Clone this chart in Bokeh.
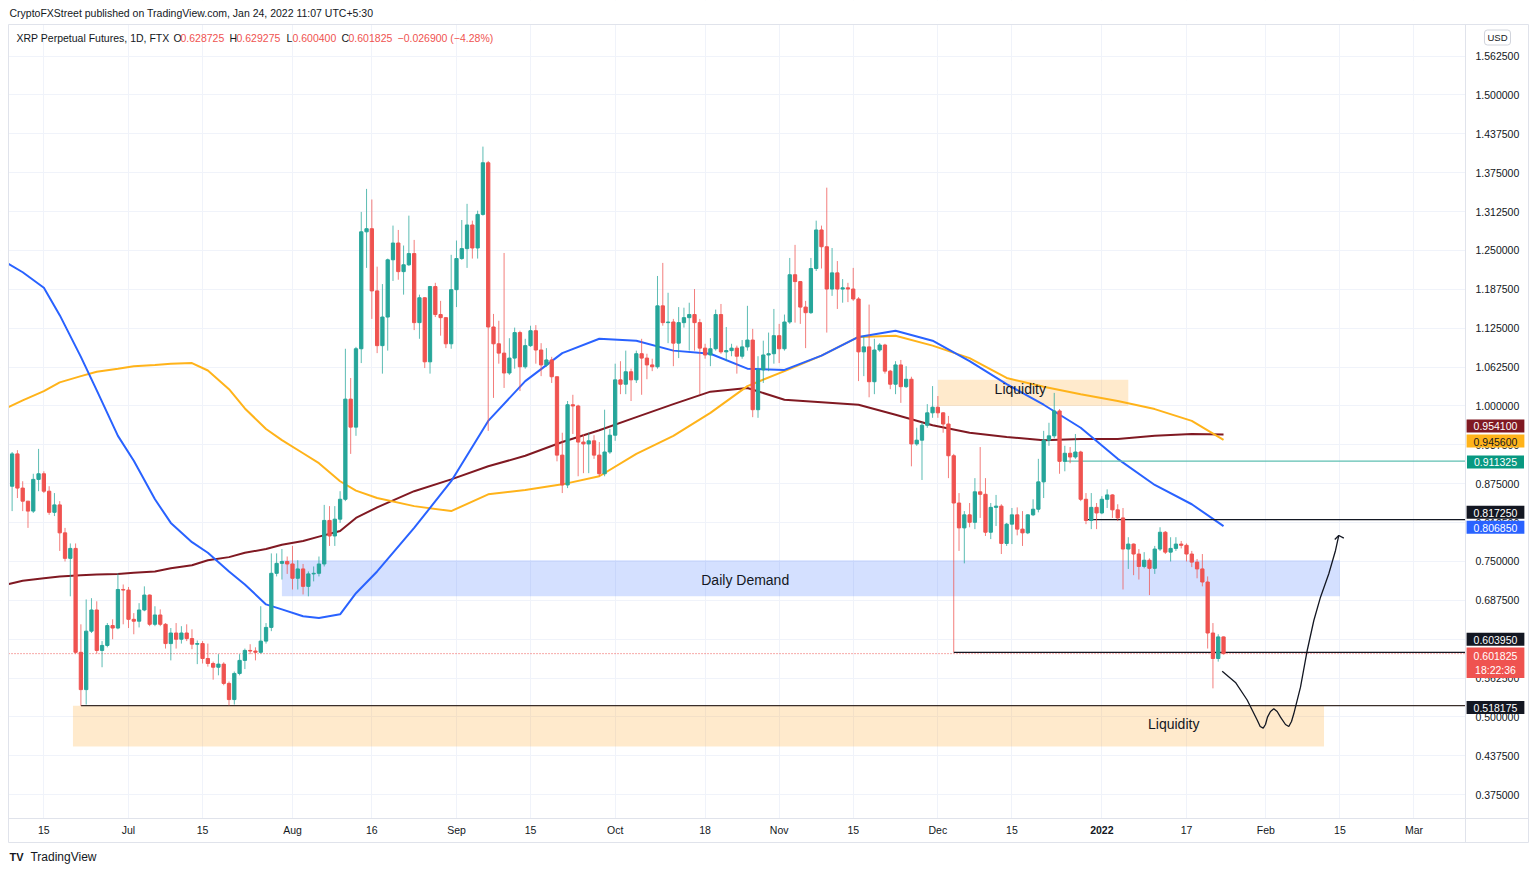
import numpy as np
import pandas as pd
from bokeh.plotting import figure
from bokeh.models import Range1d, FixedTicker, NumeralTickFormatter, Label
from bokeh.embed import file_html
from bokeh.resources import INLINE

FONT = "Liberation Sans"
BASE = pd.Timestamp("2021-07-01")


def day(s):
    return (pd.Timestamp(s) - BASE) / pd.Timedelta(days=1)


# ---------------- daily candles, XRP perpetual (FTX) ----------------
first_open = 0.860
close_jun = [0.871, 0.923, 0.868, 0.847, 0.831, 0.882, 0.891, 0.863, 0.829, 0.841, 0.796, 0.755,
             0.771, 0.604, 0.544, 0.638, 0.672, 0.607, 0.615, 0.647, 0.643, 0.705, 0.704]
high_jun = [0.876, 0.926, 0.929, 0.879, 0.847, 0.891, 0.931, 0.895, 0.871, 0.860, 0.847, 0.804,
            0.779, 0.779, 0.649, 0.689, 0.691, 0.686, 0.622, 0.651, 0.657, 0.731, 0.713]
low_jun = [0.855, 0.831, 0.852, 0.831, 0.804, 0.828, 0.863, 0.860, 0.825, 0.823, 0.767, 0.750,
           0.694, 0.601, 0.518175, 0.520, 0.635, 0.602, 0.580, 0.612, 0.625, 0.641, 0.649]

close_jul = [0.657, 0.654, 0.672, 0.696, 0.649, 0.664, 0.649, 0.618, 0.635, 0.625, 0.635, 0.626,
             0.617, 0.618, 0.594, 0.586, 0.580, 0.585, 0.554, 0.528, 0.570, 0.591, 0.607, 0.606,
             0.604, 0.622, 0.644, 0.731, 0.747, 0.750, 0.746]
high_jul = [0.709, 0.667, 0.683, 0.710, 0.697, 0.678, 0.673, 0.651, 0.643, 0.651, 0.646, 0.649,
            0.641, 0.623, 0.622, 0.618, 0.589, 0.601, 0.588, 0.557, 0.573, 0.601, 0.610, 0.617,
            0.612, 0.678, 0.651, 0.763, 0.763, 0.770, 0.758]
low_jul = [0.643, 0.633, 0.644, 0.670, 0.646, 0.646, 0.646, 0.610, 0.591, 0.610, 0.618, 0.622,
           0.609, 0.585, 0.586, 0.581, 0.560, 0.567, 0.551, 0.5185, 0.520, 0.567, 0.577, 0.601,
           0.591, 0.602, 0.618, 0.638, 0.726, 0.721, 0.730]

close_aug = [0.723, 0.738, 0.710, 0.730, 0.731, 0.746, 0.816, 0.791, 0.818, 0.850, 1.011, 0.966,
             1.092, 1.280, 1.285, 1.185, 1.097, 1.143, 1.235, 1.262, 1.216, 1.227, 1.245, 1.134,
             1.174, 1.071, 1.192, 1.147, 1.142, 1.100, 1.187]
high_aug = [0.775, 0.752, 0.746, 0.734, 0.742, 0.758, 0.841, 0.839, 0.839, 0.863, 1.092, 1.045,
            1.095, 1.312, 1.349, 1.332, 1.224, 1.196, 1.237, 1.290, 1.283, 1.258, 1.306, 1.267,
            1.179, 1.175, 1.193, 1.198, 1.169, 1.143, 1.243]
low_aug = [0.705, 0.705, 0.697, 0.694, 0.718, 0.726, 0.742, 0.775, 0.775, 0.812, 0.847, 0.923,
           0.952, 1.069, 1.222, 1.140, 1.085, 1.052, 1.089, 1.201, 1.203, 1.179, 1.225, 1.122,
           1.108, 1.061, 1.052, 1.143, 1.113, 1.093, 1.092]

close_sep = [1.237, 1.253, 1.291, 1.254, 1.308, 1.391, 1.127, 1.100, 1.085, 1.053, 1.077, 1.118,
             1.063, 1.097, 1.121, 1.090, 1.066, 1.074, 1.047, 0.921, 0.873, 1.002, 1.000, 0.942,
             0.939, 0.944, 0.921, 0.891, 0.926, 0.953]
high_sep = [1.266, 1.299, 1.325, 1.298, 1.314, 1.417, 1.394, 1.148, 1.137, 1.246, 1.109, 1.126,
            1.121, 1.108, 1.129, 1.130, 1.101, 1.093, 1.079, 1.047, 0.957, 1.008, 1.018, 1.002,
            0.955, 0.957, 0.953, 0.942, 0.994, 0.963]
low_sep = [1.159, 1.235, 1.222, 1.237, 1.237, 1.306, 0.960, 1.013, 1.068, 1.029, 1.050, 1.060,
           1.024, 1.060, 1.095, 1.068, 1.048, 1.063, 1.037, 0.911, 0.860, 0.868, 0.955, 0.887,
           0.892, 0.892, 0.915, 0.887, 0.887, 0.923]

close_oct = [1.042, 1.035, 1.055, 1.042, 1.084, 1.077, 1.066, 1.063, 1.161, 1.134, 1.135, 1.101,
             1.134, 1.142, 1.147, 1.134, 1.093, 1.082, 1.092, 1.147, 1.087, 1.089, 1.093, 1.080,
             1.095, 1.106, 0.994, 1.058, 1.082, 1.084, 1.113]
high_oct = [1.068, 1.072, 1.089, 1.060, 1.089, 1.108, 1.084, 1.076, 1.209, 1.230, 1.182, 1.140,
            1.159, 1.158, 1.166, 1.188, 1.140, 1.100, 1.109, 1.155, 1.164, 1.127, 1.100, 1.097,
            1.106, 1.161, 1.124, 1.080, 1.105, 1.118, 1.156]
low_oct = [0.944, 1.019, 1.019, 1.008, 1.037, 1.018, 1.043, 1.056, 1.060, 1.129, 1.101, 1.064,
           1.077, 1.126, 1.089, 1.089, 1.019, 1.076, 1.064, 1.089, 1.084, 1.072, 1.080, 1.052,
           1.076, 1.089, 0.982, 0.981, 1.037, 1.056, 1.068]

close_nov = [1.092, 1.135, 1.211, 1.200, 1.159, 1.150, 1.221, 1.283, 1.256, 1.188, 1.214, 1.188,
             1.190, 1.188, 1.172, 1.087, 1.095, 1.039, 1.090, 1.098, 1.056, 1.035, 1.066, 1.031,
             1.043, 0.939, 0.945, 0.969, 0.989, 0.998]
high_nov = [1.132, 1.147, 1.238, 1.259, 1.201, 1.169, 1.238, 1.298, 1.290, 1.351, 1.254, 1.233,
            1.204, 1.198, 1.222, 1.175, 1.113, 1.163, 1.108, 1.101, 1.100, 1.058, 1.072, 1.074,
            1.064, 1.047, 0.965, 0.974, 1.003, 1.032]
low_nov = [1.069, 1.089, 1.132, 1.134, 1.132, 1.093, 1.148, 1.217, 1.221, 1.118, 1.177, 1.156,
           1.166, 1.167, 1.169, 1.040, 1.048, 1.014, 1.019, 1.087, 1.052, 1.027, 1.019, 1.005,
           1.029, 0.903, 0.936, 0.881, 0.965, 0.981]

close_dec = [0.989, 0.971, 0.920, 0.844, 0.804, 0.825, 0.813, 0.862, 0.858, 0.797, 0.837, 0.839,
             0.779, 0.810, 0.825, 0.802, 0.796, 0.825, 0.834, 0.878, 0.945, 0.952, 0.992, 0.911,
             0.924, 0.918, 0.926, 0.850, 0.816, 0.837, 0.828]
high_dec = [1.016, 0.990, 0.984, 0.923, 0.860, 0.831, 0.844, 0.884, 0.934, 0.884, 0.844, 0.857,
            0.842, 0.812, 0.836, 0.837, 0.831, 0.826, 0.850, 0.915, 0.960, 0.973, 1.021, 0.995,
            0.936, 0.934, 0.955, 0.928, 0.860, 0.860, 0.844]
low_dec = [0.981, 0.957, 0.884, 0.60395, 0.767, 0.747, 0.805, 0.802, 0.820, 0.791, 0.786, 0.807,
           0.762, 0.775, 0.778, 0.792, 0.775, 0.794, 0.823, 0.829, 0.852, 0.936, 0.948, 0.891,
           0.895, 0.908, 0.915, 0.847, 0.810, 0.802, 0.802]

close_jan = [0.850, 0.857, 0.833, 0.820, 0.770, 0.778, 0.762, 0.742, 0.752, 0.739, 0.770, 0.797,
             0.765, 0.771, 0.778, 0.776, 0.762, 0.749, 0.738, 0.717, 0.635, 0.594, 0.628725, 0.601825]
high_jan = [0.855, 0.866, 0.858, 0.842, 0.836, 0.789, 0.779, 0.770, 0.765, 0.755, 0.775, 0.805,
            0.799, 0.789, 0.789, 0.783, 0.779, 0.767, 0.754, 0.762, 0.726, 0.651, 0.633, 0.629275]
low_jan = [0.826, 0.836, 0.820, 0.815, 0.705, 0.738, 0.728, 0.721, 0.739, 0.696, 0.730, 0.767,
           0.762, 0.750, 0.767, 0.771, 0.750, 0.741, 0.723, 0.710, 0.610, 0.546, 0.589, 0.6004]

# ---------------- moving averages ----------------
ma_dates = ["2021-06-08", "2021-06-11", "2021-06-15", "2021-06-18", "2021-06-22", "2021-06-25",
            "2021-06-29", "2021-07-02", "2021-07-06", "2021-07-09", "2021-07-13", "2021-07-16",
            "2021-07-20", "2021-07-23", "2021-07-27", "2021-07-30", "2021-08-03", "2021-08-06",
            "2021-08-10", "2021-08-13", "2021-08-17", "2021-08-24",
            "2021-08-31", "2021-09-07", "2021-09-14", "2021-09-21", "2021-09-28", "2021-10-05",
            "2021-10-12", "2021-10-19", "2021-10-26", "2021-11-02", "2021-11-09", "2021-11-16",
            "2021-11-23", "2021-11-30", "2021-12-07", "2021-12-14", "2021-12-21", "2021-12-28",
            "2022-01-04", "2022-01-11", "2022-01-18", "2022-01-24"]
ma_blue = [1.230, 1.215, 1.190, 1.146, 1.079, 1.025, 0.952, 0.912, 0.850, 0.812, 0.781, 0.764,
           0.734, 0.713, 0.681, 0.673, 0.662, 0.659, 0.665, 0.699, 0.734, 0.804,
           0.879, 0.976, 1.040, 1.085, 1.108, 1.105, 1.089, 1.084, 1.060, 1.058, 1.081, 1.111,
           1.121, 1.105, 1.072, 1.035, 1.002, 0.965, 0.915, 0.873, 0.842, 0.80685]
ma_yellow = [0.997, 1.009, 1.024, 1.038, 1.048, 1.055, 1.060, 1.064, 1.066, 1.068, 1.069, 1.057,
             1.027, 0.996, 0.963, 0.945, 0.924, 0.908, 0.879, 0.864, 0.852, 0.839,
             0.831, 0.858, 0.865, 0.874, 0.887, 0.923, 0.952, 0.989, 1.032, 1.056, 1.081, 1.111,
             1.113, 1.097, 1.077, 1.045, 1.031, 1.019, 1.008, 0.995, 0.976, 0.9456]
ma_red = [0.713, 0.719, 0.723, 0.726, 0.728, 0.729, 0.730, 0.732, 0.734, 0.739, 0.744, 0.752,
          0.757, 0.764, 0.770, 0.777, 0.783, 0.790, 0.799, 0.820, 0.837, 0.863,
          0.882, 0.903, 0.920, 0.942, 0.961, 0.982, 1.003, 1.023, 1.029, 1.010, 1.006, 1.002,
          0.986, 0.969, 0.957, 0.950, 0.945, 0.947, 0.947, 0.952, 0.955, 0.9541]

# ---------------- axis ticks ----------------
tick_dates = ["2021-06-15", "2021-07-01", "2021-07-15", "2021-08-01", "2021-08-16", "2021-09-01",
              "2021-09-15", "2021-10-01", "2021-10-18", "2021-11-01", "2021-11-15", "2021-12-01",
              "2021-12-15", "2022-01-01", "2022-01-17", "2022-02-01", "2022-02-15", "2022-03-01"]
tick_labels = ["15", "Jul", "15", "Aug", "16", "Sep", "15", "Oct", "18", "Nov", "15", "Dec",
               "15", "2022", "17", "Feb", "15", "Mar"]
price_ticks = [0.375, 0.4375, 0.5, 0.5625, 0.625, 0.6875, 0.75, 0.8125, 0.875, 0.9375, 1.0,
               1.0625, 1.125, 1.1875, 1.25, 1.3125, 1.375, 1.4375, 1.5, 1.5625]

# ---------------- drawings ----------------
zone_names = ["Liquidity", "Daily Demand", "Liquidity"]
zone_start = ["2021-12-01", "2021-07-30", "2021-06-20 12:00"]
zone_end = ["2022-01-06", "2022-02-15", "2022-02-12"]
zone_top = [1.042, 0.752, 0.518175]
zone_bottom = [1.000, 0.694, 0.4526]
zone_label_at = ["2021-12-16 14:00", "2021-10-25 14:00", "2022-01-14 14:00"]
zone_label_price = [1.0265, 0.7195, 0.4895]

level_price = [0.60395, 0.518175, 0.911325, 0.81725]
level_start = ["2021-12-04", "2021-06-22", "2021-12-25", "2021-12-29"]

path_day = [206.75, 209.26, 211.47, 213.36, 213.93, 214.50, 214.93, 215.31, 215.88, 216.50,
            217.14, 217.77, 218.71, 219.34, 219.85, 220.28, 221.55, 222.82, 224.07, 225.33,
            226.90, 228.17, 228.79]
path_price = [0.5736, 0.5555, 0.5273, 0.4952, 0.4847, 0.4820, 0.4879, 0.4997, 0.5088, 0.5132,
              0.5088, 0.4997, 0.4879, 0.4847, 0.4928, 0.5051, 0.5479, 0.6069, 0.6551, 0.6926,
              0.7302, 0.7677, 0.7918]
head_day = [228.03, 228.79, 229.74]
head_price = [0.7854, 0.7918, 0.7875]

# ---------------- page geometry (data units of the single frame) ----------------
XL, XR = -24.197, 265.03          # whole canvas width
YB, YT = 0.2564, 1.6519           # whole canvas height
PANEL_L, PANEL_R, PLOT_R = -22.68, 264.65, 252.74
PANEL_T, PLOT_B, PANEL_B = 1.6133, 0.3368, 0.2982
TAG_X = 258.41

# ---------------- build ----------------
close = close_jun + close_jul + close_aug + close_sep + close_oct + close_nov + close_dec + close_jan
high = high_jun + high_jul + high_aug + high_sep + high_oct + high_nov + high_dec + high_jan
low = low_jun + low_jul + low_aug + low_sep + low_oct + low_nov + low_dec + low_jan
dates = pd.date_range("2021-06-08", periods=len(close), freq="D")
xd = np.array([(d - BASE) / pd.Timedelta(days=1) for d in dates])
c = np.array(close)
o = np.array([first_open] + close[:-1])
h = np.maximum.reduce([np.array(high), o, c])
l = np.minimum.reduce([np.array(low), o, c])
UP, DN = "#26a69a", "#ef5350"
INK = "#131722"
col = np.where(c >= o, UP, DN)

p = figure(width=1530, height=868, output_backend="svg", toolbar_location=None,
           x_range=Range1d(XL, XR), y_range=Range1d(YB, YT),
           y_axis_location="right", min_border=0,
           background_fill_color="white", border_fill_color="white",
           outline_line_color=None)

# zones
zcol = ["#ff9800", "#2962ff", "#ff9800"]
p.quad(left=[day(s) for s in zone_start], right=[day(s) for s in zone_end],
       top=zone_top, bottom=zone_bottom, fill_color=zcol, fill_alpha=0.2, line_color=None)

# moving averages
mx = [day(s) for s in ma_dates]
p.line(mx, ma_red, color="#801922", line_width=2)
p.line(mx, ma_yellow, color="#ffb31a", line_width=2)
p.line(mx, ma_blue, color="#2962ff", line_width=2)

# current price dotted
p.segment(x0=[PANEL_L], y0=[close[-1]], x1=[PLOT_R], y1=[close[-1]], color=DN, line_width=1,
          line_dash="1 2")

# levels
lcol = [INK, "#3a2e2a", "#5fbfb2", INK]
p.segment(x0=[day(s) for s in level_start], y0=level_price, x1=[PLOT_R] * 4, y1=level_price,
          color=lcol, line_width=1.2)

# candles
p.segment(x0=xd, y0=h, x1=xd, y1=l, color=col, line_width=1, alpha=0.75)
p.vbar(x=xd, width=0.62, top=np.maximum(o, c), bottom=np.minimum(o, c),
       fill_color=col, line_color=col, line_width=1)

# projected path
p.line(path_day, path_price, color=INK, line_width=1.3)
p.line(head_day, head_price, color=INK, line_width=1.3)

# white masks outside the price pane (header, price scale, time scale, margins)
p.quad(left=[XL, PLOT_R, XL, XL, PANEL_R], right=[XR, XR, XR, PANEL_L, XR],
       top=[YT, YT, PLOT_B, YT, YT], bottom=[PANEL_T, YB, YB, YB, YB],
       fill_color="white", line_color=None)
# panel borders
p.segment(x0=[PANEL_L, PANEL_L, PANEL_L, PANEL_L, PANEL_R, PLOT_R],
          y0=[PANEL_T, PLOT_B, PANEL_B, PANEL_B, PANEL_B, PANEL_B],
          x1=[PANEL_R, PANEL_R, PANEL_R, PANEL_L, PANEL_R, PLOT_R],
          y1=[PANEL_T, PLOT_B, PANEL_B, PANEL_T, PANEL_T, PANEL_T],
          color="#e0e3eb", line_width=1)

# zone labels
for name, xs, yp in zip(zone_names, zone_label_at, zone_label_price):
    p.add_layout(Label(x=day(xs), y=yp, text=name, text_align="center", text_baseline="middle",
                       text_font=FONT, text_font_size="14px", text_color=INK))

# axes, placed on the pane edges
p.xaxis.ticker = FixedTicker(ticks=[day(s) for s in tick_dates])
p.xaxis.major_label_overrides = {int(day(s)): (t if t != "2022" else " ")
                                 for s, t in zip(tick_dates, tick_labels)}
p.yaxis.ticker = FixedTicker(ticks=price_ticks)
p.yaxis.formatter = NumeralTickFormatter(format="0.000000")
p.xaxis.fixed_location = PLOT_B
p.yaxis.fixed_location = PLOT_R
for ax in (p.xaxis, p.yaxis):
    ax.axis_line_color = None
    ax.major_tick_line_color = None
    ax.minor_tick_line_color = None
    ax.major_tick_out = 0
    ax.major_tick_in = 0
    ax.minor_tick_out = 0
    ax.minor_tick_in = 0
    ax.major_label_text_font = FONT
    ax.major_label_text_font_size = "10.5px"
    ax.major_label_text_color = INK
p.xaxis.major_label_standoff = 6
p.yaxis.major_label_standoff = 10
p.xgrid.grid_line_color = "#f0f3fa"
p.ygrid.grid_line_color = "#f0f3fa"

p.add_layout(Label(x=day("2022-01-01"), y=0.3175, text="2022", text_align="center",
                   text_baseline="middle", text_font=FONT, text_font_size="10.5px",
                   text_font_style="bold", text_color=INK))

# header texts
p.add_layout(Label(x=-22.50, y=1.631, text_baseline="middle",
                   text="CryptoFXStreet published on TradingView.com, Jan 24, 2022 11:07 UTC+5:30",
                   text_font=FONT, text_font_size="10.5px", text_color=INK))
hdr = [(-21.17, "XRP Perpetual Futures, 1D, FTX", INK), (8.51, "O", INK),
       (9.83, "0.628725", DN), (19.09, "H", INK), (20.42, "0.629275", DN),
       (29.87, "L", INK), (31.00, "0.600400", DN), (40.26, "C", INK),
       (41.59, "0.601825", DN), (50.85, "\u22120.026900 (\u22124.28%)", DN)]
for xs, t, cl in hdr:
    p.add_layout(Label(x=xs, y=1.5924, text=t, text_baseline="middle",
                       text_font=FONT, text_font_size="10.5px", text_color=cl))
p.add_layout(Label(x=-18.53, y=0.2741, text="TradingView", text_baseline="middle",
                   text_font=FONT, text_font_size="12px", text_color=INK))
p.add_layout(Label(x=-22.5, y=0.2741, text="TV", text_baseline="middle",
                   text_font=FONT, text_font_size="11px", text_font_style="bold",
                   text_color=INK))
p.add_layout(Label(x=258.79, y=1.5924, text="USD", text_align="center",
                   text_baseline="middle", text_font=FONT, text_font_size="9.5px",
                   text_color=INK, background_fill_color="white",
                   border_line_color="#d1d4dc", border_radius=3,
                   padding=dict(left=3, right=3, top=2, bottom=2)))

# price tags on the price scale
tags = [(0.968, "0.954100", "#801922", "white"), (0.9436, "0.945600", "#ffb31a", INK),
        (0.910, "0.911325", "#089981", "white"), (0.8293, "0.817250", INK, "white"),
        (0.8052, "0.806850", "#2962ff", "white"), (0.6249, "0.603950", INK, "white"),
        (0.5154, "0.518175", INK, "white")]
for yp, t, bg, fg in tags:
    p.add_layout(Label(x=TAG_X, y=yp, text=t, text_align="center",
                       text_baseline="middle", text_font=FONT, text_font_size="10.5px",
                       text_color=fg, background_fill_color=bg, background_fill_alpha=1,
                       padding=dict(left=7, right=7, top=3, bottom=2)))
p.add_layout(Label(x=TAG_X, y=0.6117, text="0.601825\n18:22:36",
                   text_align="center", text_baseline="top", text_font=FONT,
                   text_font_size="10.5px", text_color="white", background_fill_color=DN,
                   background_fill_alpha=1, padding=dict(left=7, right=7, top=2, bottom=2)))

open("out.html", "w").write(file_html(p, INLINE))
